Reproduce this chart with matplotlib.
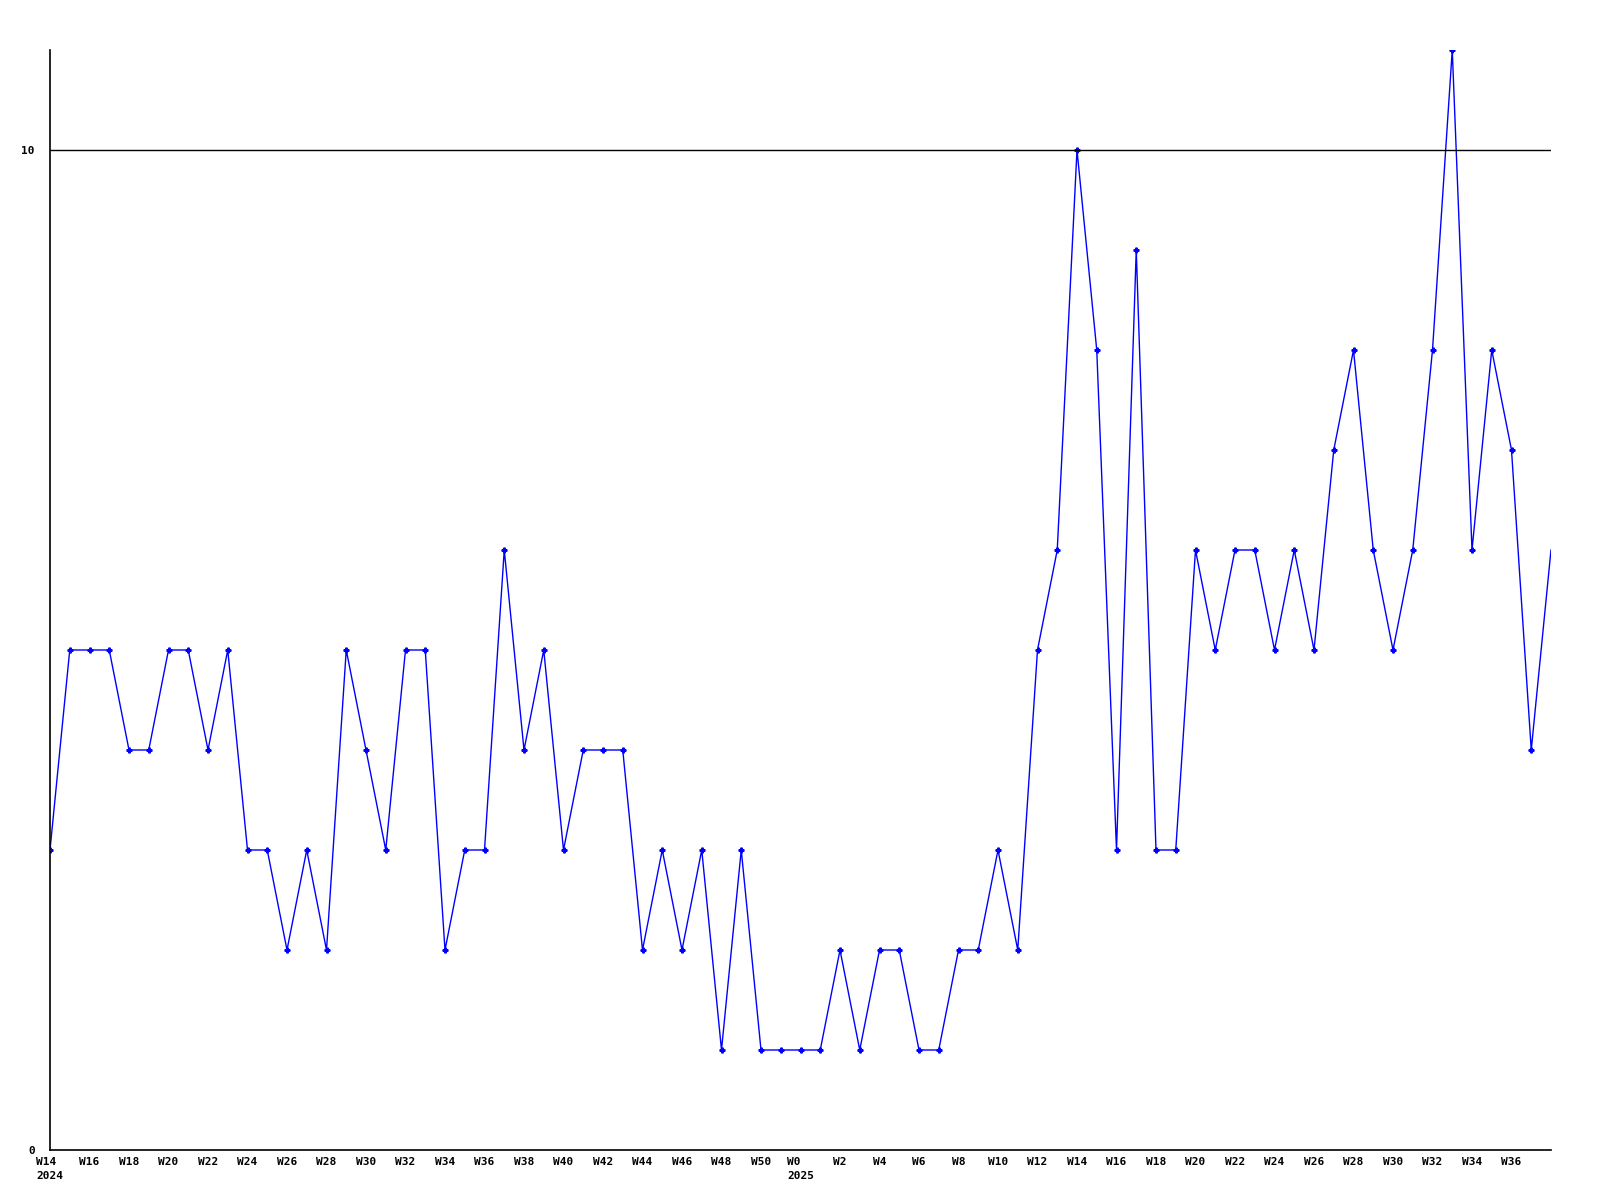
import numpy as np
import matplotlib
matplotlib.use("Agg")
import matplotlib.pyplot as plt

# weekly counts, W14 2024 .. W38 2025 (week after W51 shows as W0)
weeks_2024 = list(range(14, 52))
weeks_2025 = list(range(0, 39))
values = [3, 5, 5, 5, 4, 4, 5, 5, 4, 5,
          3, 3, 2, 3, 2, 5, 4, 3, 5, 5,
          2, 3, 3, 6, 4, 5, 3, 4, 4, 4,
          2, 3, 2, 3, 1, 3, 1, 1,
          1, 1, 2, 1, 2, 2, 1, 1, 2, 2,
          3, 2, 5, 6, 10, 8, 3, 9, 3, 3,
          6, 5, 6, 6, 5, 6, 5, 7, 8, 6,
          5, 6, 8, 11, 6, 8, 7, 4, 6]

week_labels = [f"W{w}" for w in weeks_2024] + [f"W{w}" for w in weeks_2025]
x = np.arange(len(values))

fig = plt.figure(figsize=(16, 12), dpi=100)
ax = fig.add_axes([50 / 1600, 50 / 1200, 1501 / 1600, 1100 / 1200])

ax.plot(x, values, color="#0000ff", lw=1.0, marker="P", markersize=3.5,
        markevery=list(range(len(values) - 1)))
ax.axhline(10, color="black", lw=1)

ax.set_xlim(0, len(values) - 1)
ax.set_ylim(0, 11)

for s in ["top", "right"]:
    ax.spines[s].set_visible(False)
for s in ["left", "bottom"]:
    ax.spines[s].set_linewidth(1.2)

ticks = x[::2][:-1]
labels = []
for i in ticks:
    lab = week_labels[i]
    if i == 0:
        lab += "\n2024"
    elif i == len(weeks_2024):
        lab += "\n2025"
    labels.append(lab)
ax.set_xticks(ticks)
ax.set_xticklabels(labels, family="DejaVu Sans Mono", weight="bold", fontsize=8,
                   multialignment="left", linespacing=1.5)
ax.set_yticks([0, 10])
ax.set_yticklabels(["0", "10"], family="DejaVu Sans Mono", weight="bold", fontsize=8)
ax.tick_params(axis="both", length=0)
ax.tick_params(axis="x", pad=5)
ax.tick_params(axis="y", pad=11)

fig.savefig("out.png", dpi=100)
